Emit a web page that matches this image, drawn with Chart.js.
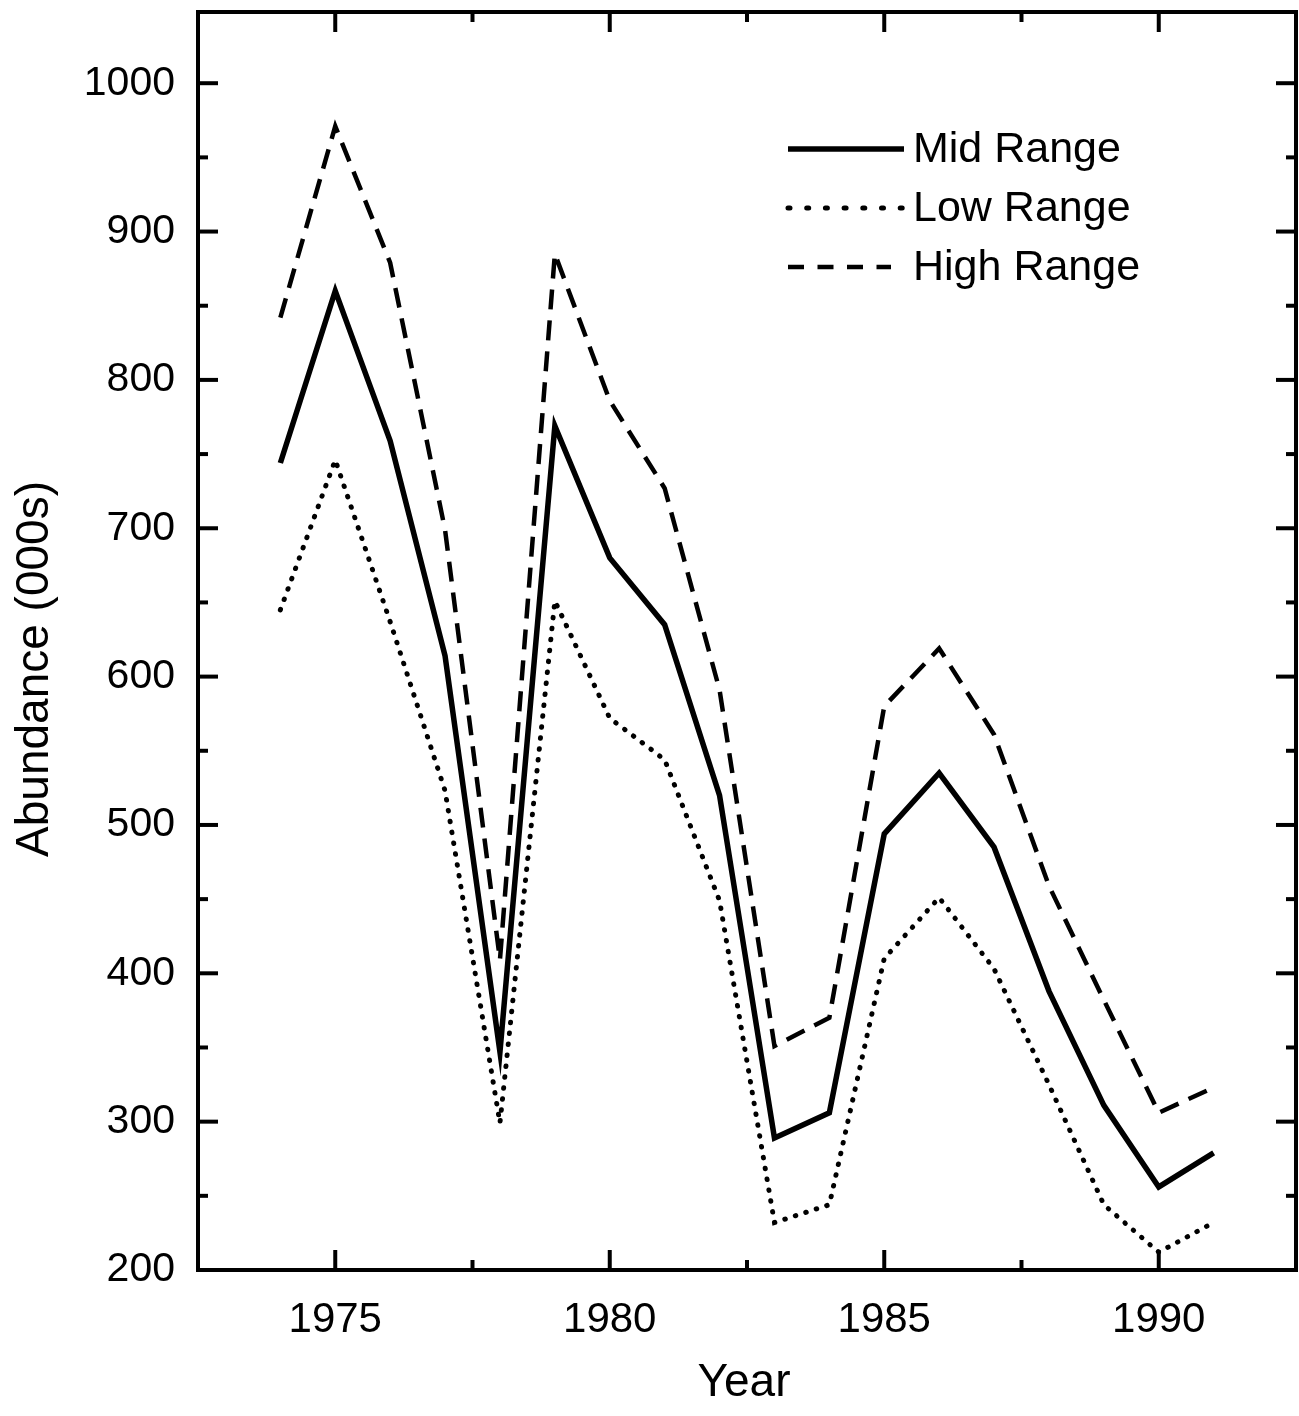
<!DOCTYPE html>
<html>
<head>
<meta charset="utf-8">
<script src="https://cdn.jsdelivr.net/npm/chart.js@4/dist/chart.umd.min.js"></script>
<style>
  html, body { margin: 0; padding: 0; background: #fff; }
  #wrap { width: 1299px; height: 1416px; }
</style>
</head>
<body>
<div id="wrap"><canvas id="c" width="1299" height="1416"></canvas></div>
<script>
// Stock abundance estimates (thousands), 1974-1991
const years = [1974, 1975, 1976, 1977, 1978, 1979, 1980, 1981, 1982,
               1983, 1984, 1985, 1986, 1987, 1988, 1989, 1990, 1991];
const midRange  = [744, 860, 759, 614, 347, 769, 680, 635, 520,
                   289, 306, 494, 535, 485, 388, 311, 256, 279];
const lowRange  = [645, 746, 637, 523, 299, 651, 572, 544, 449,
                   232, 244, 410, 451, 403, 325, 244, 212, 232];
const highRange = [842, 971, 879, 699, 409, 885, 786, 727, 591,
                   351, 370, 580, 619, 561, 459, 382, 306, 323];

const xTicks = [1975, 1980, 1985, 1990];
const xMinorTicks = [1977.5, 1982.5, 1987.5];
const yTicks = [200, 300, 400, 500, 600, 700, 800, 900, 1000];
const yMinorTicks = [250, 350, 450, 550, 650, 750, 850, 950];

const seriesNames = ['Mid Range', 'Low Range', 'High Range'];
const FONT = '"Liberation Sans", Arial, Helvetica, sans-serif';

const toPoints = vals => years.map((yr, i) => ({ x: yr, y: vals[i] }));

const styles = [
  { borderWidth: 5.5, borderDash: [],          borderCapStyle: 'butt'  },
  { borderWidth: 5,   borderDash: [0.5, 10.5], borderCapStyle: 'round' },
  { borderWidth: 4.5, borderDash: [20, 11],    borderCapStyle: 'butt'  }
];
// the legend samples use a looser pattern than the plotted lines
const legendDash = [[], [2, 16.7], [16, 13.5]];
const legendLen = [116, 116, 103];

// Frame, inward ticks on all four sides, axis titles and the legend
const framePlugin = {
  id: 'frame',
  afterDraw(chart) {
    const { ctx, chartArea: a, scales } = chart;
    const xs = scales.x, ys = scales.y;
    ctx.save();
    ctx.strokeStyle = '#000';
    ctx.lineWidth = 4;
    ctx.lineCap = 'butt';
    ctx.strokeRect(a.left, a.top, a.right - a.left, a.bottom - a.top);

    const tick = (x1, y1, x2, y2) => {
      ctx.beginPath(); ctx.moveTo(x1, y1); ctx.lineTo(x2, y2); ctx.stroke();
    };
    const major = 20, minor = 10;
    xTicks.forEach(v => {
      const px = xs.getPixelForValue(v);
      tick(px, a.bottom, px, a.bottom - major);
      tick(px, a.top, px, a.top + major);
    });
    xMinorTicks.forEach(v => {
      const px = xs.getPixelForValue(v);
      tick(px, a.bottom, px, a.bottom - minor);
      tick(px, a.top, px, a.top + minor);
    });
    yTicks.forEach(v => {
      const py = ys.getPixelForValue(v);
      tick(a.left, py, a.left + major, py);
      tick(a.right, py, a.right - major, py);
    });
    yMinorTicks.forEach(v => {
      const py = ys.getPixelForValue(v);
      tick(a.left, py, a.left + minor, py);
      tick(a.right, py, a.right - minor, py);
    });

    // Axis titles
    ctx.fillStyle = '#000';
    ctx.font = '46px ' + FONT;
    ctx.textAlign = 'center';
    ctx.textBaseline = 'alphabetic';
    ctx.fillText('Year', 744, 1396);
    ctx.save();
    ctx.translate(48, 669);
    ctx.rotate(-Math.PI / 2);
    ctx.fillText('Abundance (000s)', 0, 0);
    ctx.restore();

    // Legend
    const rows = [149, 208, 267];
    chart.data.datasets.forEach((ds, i) => {
      const y = rows[i];
      ctx.save();
      ctx.lineWidth = ds.borderWidth;
      ctx.setLineDash(legendDash[i]);
      ctx.lineCap = ds.borderCapStyle || 'butt';
      ctx.beginPath();
      ctx.moveTo(788, y);
      ctx.lineTo(788 + legendLen[i], y);
      ctx.stroke();
      ctx.restore();
      ctx.font = '43px ' + FONT;
      ctx.textAlign = 'left';
      ctx.textBaseline = 'middle';
      ctx.fillText(ds.label, 913, y + 1);
    });
    ctx.restore();
  }
};

new Chart(document.getElementById('c'), {
  type: 'line',
  data: {
    datasets: [midRange, lowRange, highRange].map((vals, i) => Object.assign({
      label: seriesNames[i],
      data: toPoints(vals),
      borderColor: '#000',
      backgroundColor: '#000',
      pointRadius: 0,
      tension: 0,
      fill: false,
      borderJoinStyle: 'miter'
    }, styles[i]))
  },
  options: {
    responsive: false,
    animation: false,
    devicePixelRatio: 1,
    layout: { padding: { top: 12, right: 3, left: 0, bottom: 0 } },
    plugins: { legend: { display: false }, tooltip: { enabled: false } },
    scales: {
      x: {
        type: 'linear',
        min: 1972.5,
        max: 1992.5,
        grid: { display: false, drawTicks: false },
        border: { display: false },
        afterBuildTicks: s => { s.ticks = xTicks.map(v => ({ value: v })); },
        afterFit: s => { s.height = 146; s.paddingLeft = 0; s.paddingRight = 0; },
        ticks: {
          color: '#000',
          font: { family: FONT, size: 42 },
          padding: 25,
          maxRotation: 0,
          callback: v => String(v)
        }
      },
      y: {
        type: 'linear',
        min: 200,
        max: 1048,
        grid: { display: false, drawTicks: false },
        border: { display: false },
        afterBuildTicks: s => { s.ticks = yTicks.map(v => ({ value: v })); },
        afterFit: s => { s.width = 198; s.paddingTop = 0; s.paddingBottom = 0; },
        ticks: {
          color: '#000',
          font: { family: FONT, size: 41 },
          padding: 23,
          callback: v => String(v)
        }
      }
    }
  },
  plugins: [framePlugin]
});
</script>
</body>
</html>
